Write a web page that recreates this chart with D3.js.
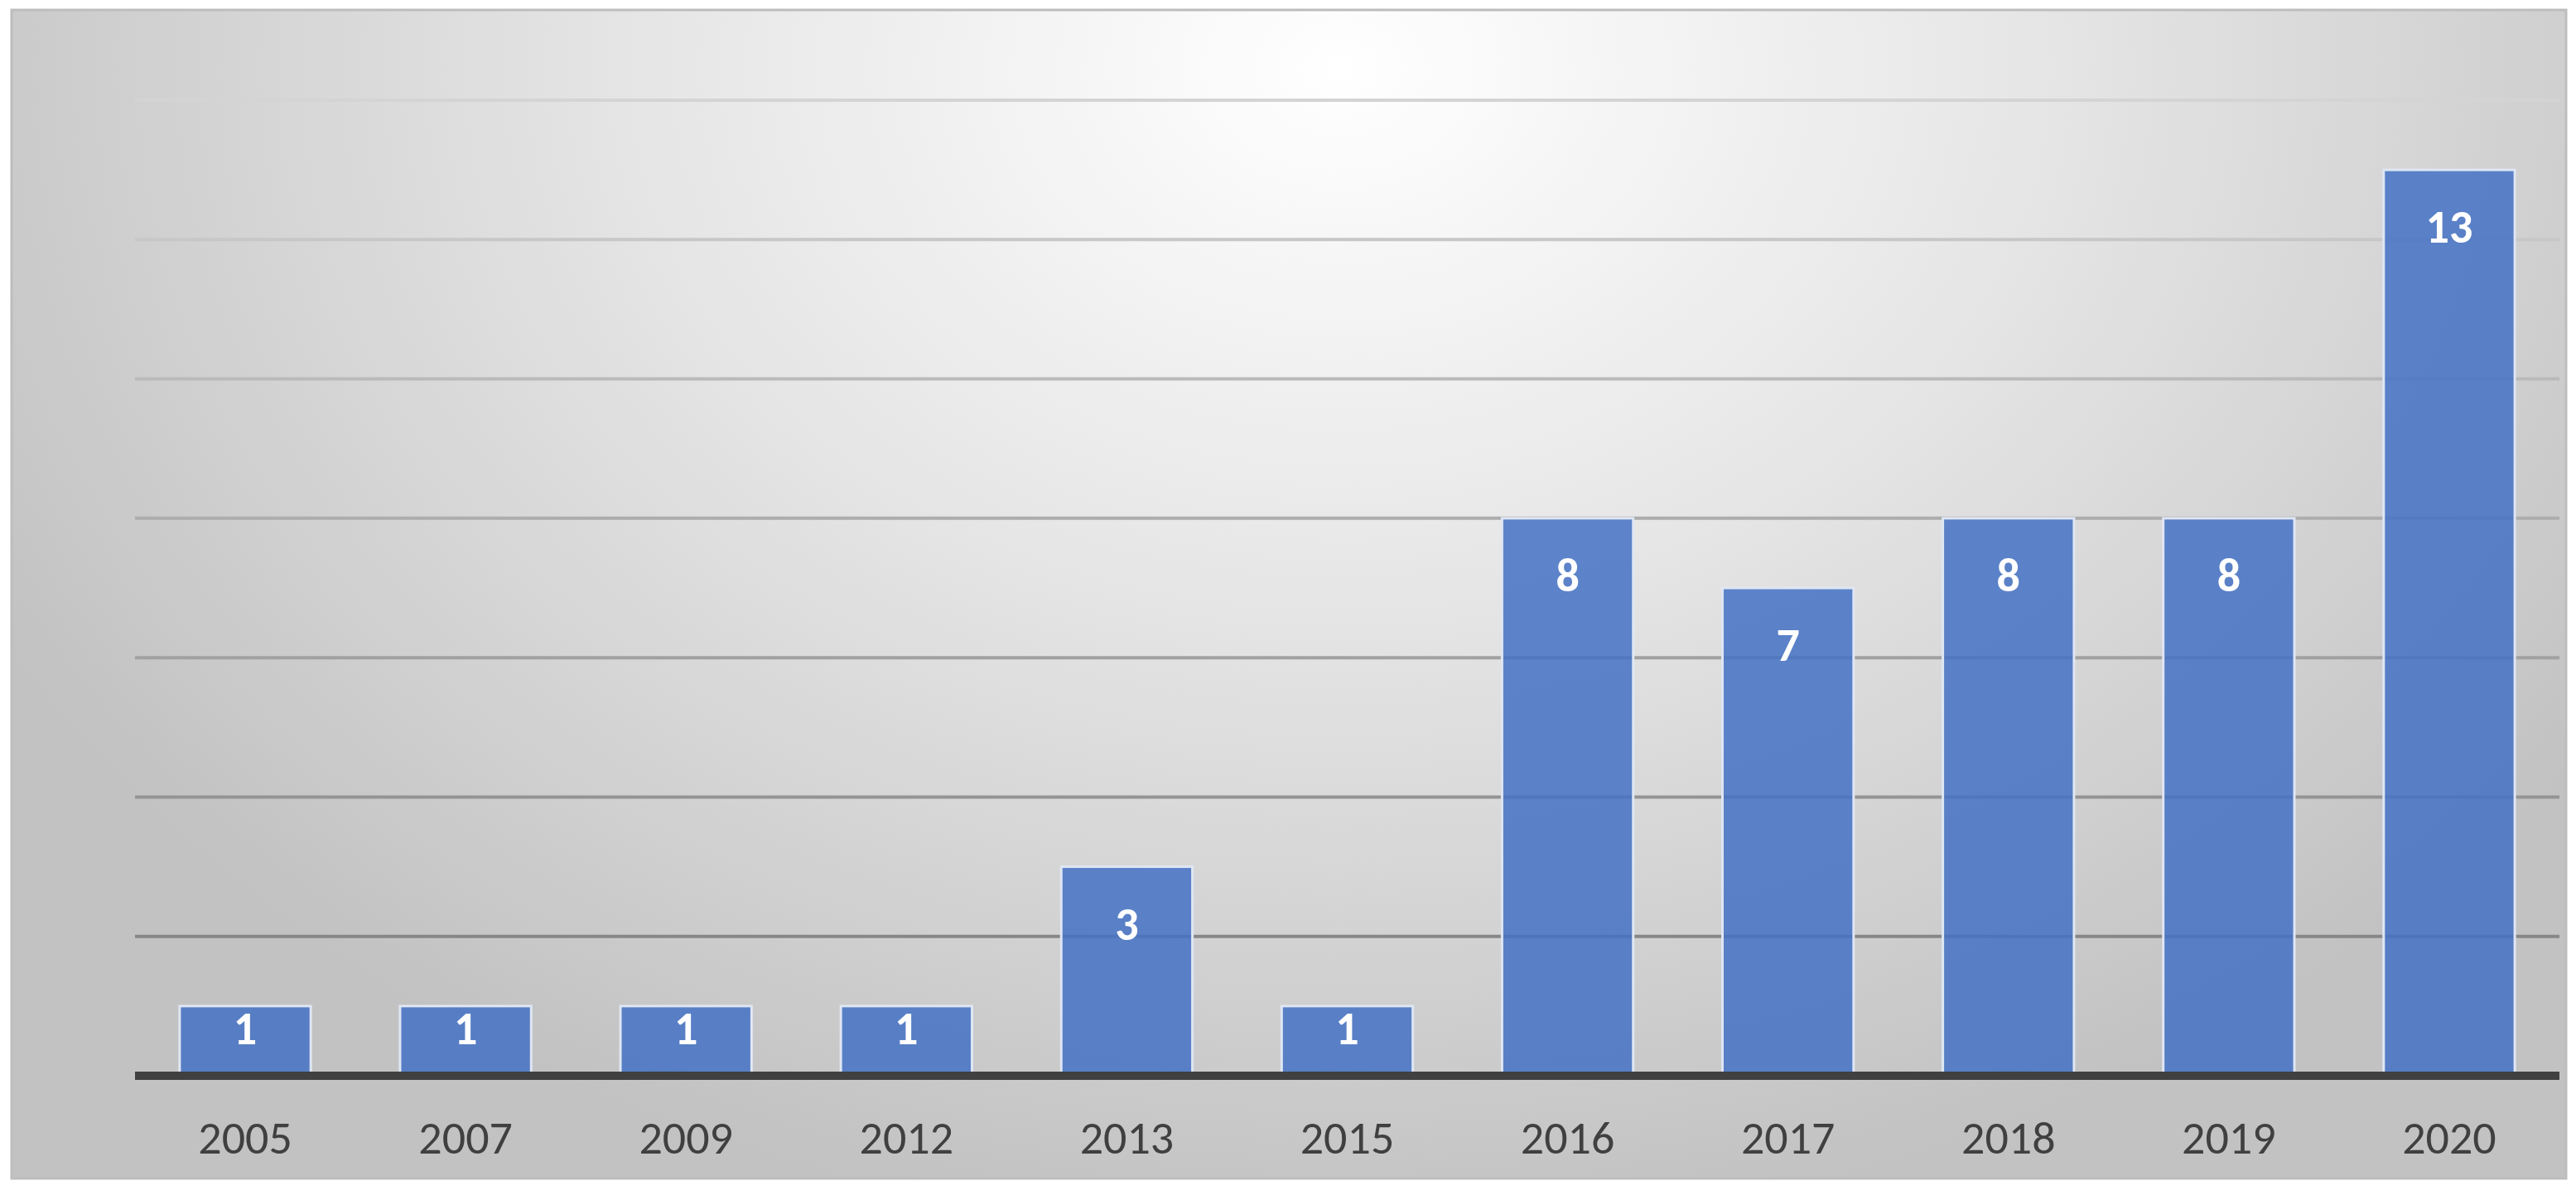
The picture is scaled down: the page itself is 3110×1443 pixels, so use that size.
<!DOCTYPE html>
<html>
<head>
<meta charset="utf-8">
<script src="https://cdn.jsdelivr.net/npm/d3@7.9.0/dist/d3.min.js"></script>
<style>
  body { margin: 0; background: #fff; }
  text { font-family: Carlito, Calibri, "Open Sans", "Noto Sans", sans-serif; }
</style>
</head>
<body>
<svg width="3110" height="1443"></svg>
<script>
const years = ['2005', '2007', '2009', '2012', '2013', '2015', '2016', '2017', '2018', '2019', '2020'];
const counts = [1, 1, 1, 1, 3, 1, 8, 7, 8, 8, 13];
const yTicks = [2, 4, 6, 8, 10, 12, 14];

const svg = d3.select('svg');
const margin = { left: 163, right: 3090, top: 121, bottom: 1299 };

// background panel with soft radial light
const defs = svg.append('defs');
const grad = defs.append('radialGradient').attr('id', 'bg')
  .attr('cx', '0.52').attr('cy', '0.05').attr('r', '1.0')
  .attr('gradientTransform', 'translate(0.52,0.05) scale(0.6,1) translate(-0.52,-0.05)');
grad.append('stop').attr('offset', '0%').attr('stop-color', '#ffffff');
grad.append('stop').attr('offset', '45%').attr('stop-color', '#e6e6e6');
grad.append('stop').attr('offset', '100%').attr('stop-color', '#c2c2c2');

svg.append('rect').attr('x', 14).attr('y', 12).attr('width', 3084).attr('height', 1411)
  .attr('fill', 'url(#bg)').attr('stroke', '#bdbdbd').attr('stroke-width', 3);

const x = d3.scaleBand().domain(years).range([margin.left, margin.right]).paddingInner(0.405).paddingOuter(0.2025);
const y = d3.scaleLinear().domain([0, 14]).range([margin.bottom, margin.top]);

// gridlines
svg.append('g').selectAll('line').data(yTicks).join('line')
  .attr('x1', margin.left).attr('x2', margin.right)
  .attr('y1', d => y(d)).attr('y2', d => y(d))
  .attr('stroke', d => d3.interpolateRgb('#7a7a7a', '#d4d4d4')(d / 14))
  .attr('stroke-width', 4);

// bars
svg.append('g').selectAll('rect').data(counts).join('rect')
  .attr('x', (d, i) => x(years[i]))
  .attr('width', x.bandwidth())
  .attr('y', d => y(d))
  .attr('height', d => y(0) - y(d))
  .attr('fill', '#4472c4').attr('fill-opacity', 0.85)
  .attr('stroke', '#dfe6f3').attr('stroke-width', 3);

// baseline
svg.append('line').attr('x1', margin.left).attr('x2', margin.right)
  .attr('y1', y(0)).attr('y2', y(0)).attr('stroke', '#404040').attr('stroke-width', 10);

// value labels
svg.append('g').selectAll('text').data(counts).join('text')
  .attr('x', (d, i) => x(years[i]) + x.bandwidth() / 2)
  .attr('y', d => Math.min(y(d) + 88, y(0) - 38))
  .attr('text-anchor', 'middle')
  .attr('fill', '#fff').attr('font-weight', 'bold').attr('font-size', 56)
  .text(d => d);

// x axis labels
const xAxis = svg.append('g').attr('transform', `translate(0,${y(0)})`)
  .call(d3.axisBottom(x).tickSize(0).tickPadding(54));
xAxis.select('.domain').remove();
xAxis.selectAll('text').attr('font-size', 56).attr('fill', '#404040')
  .attr('font-family', 'Carlito, Calibri, "Open Sans", sans-serif');
</script>
</body>
</html>
